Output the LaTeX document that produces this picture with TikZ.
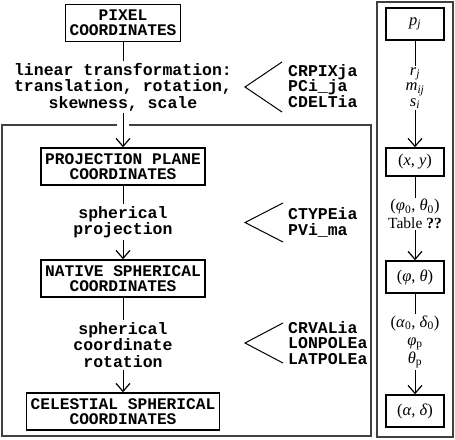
\RequirePackage{fix-cm}
\documentclass[tikz,border=0pt]{standalone}
\usepackage{fontspec}
\setmainfont{Liberation Serif}
\setmonofont{Liberation Mono}
\usetikzlibrary{arrows.meta}
\newcommand\vi[1]{\textit{#1}}
\newcommand\lowsb[1]{\textsubscript{#1}}
\begin{document}
\begin{tikzpicture}[x=1pt,y=-1pt,
  box/.style={draw, line width=1.5pt, align=center,
    font=\ttfamily\bfseries\fontsize{16.2}{15}\selectfont,
    inner xsep=4pt, inner ysep=3pt, minimum height=37pt},
  mbox/.style={draw, line width=1.5pt, minimum width=58pt, minimum height=32pt,
    font=\fontsize{16.5}{18}\selectfont, inner sep=2pt},
  lbl/.style={fill=white, align=center,
    font=\ttfamily\bfseries\fontsize{16.5}{16.5}\selectfont, inner sep=2pt},
  kw/.style={anchor=west, align=left,
    font=\ttfamily\bfseries\fontsize{16.5}{15.5}\selectfont, inner sep=0pt},
  mlbl/.style={fill=white, align=center, font=\fontsize{16.5}{18}\selectfont, inner sep=1.5pt},
  arr/.style={line width=1pt, -{Straight Barb[length=8pt,width=14pt,line width=1.2pt]}},
  frame/.style={draw=black!75, line width=1.2pt},
  brk/.style={line width=1pt}]
\useasboundingbox (0,0) rectangle (455,439);
% frames
\draw[frame] (2,125) rectangle (371,436);
\draw[frame] (377,2) rectangle (453,437);
% left column boxes
\node[box] (pix) at (123,23) {PIXEL\\COORDINATES};
\node[box] (proj) at (123,166.5) {PROJECTION PLANE\\COORDINATES};
\node[box] (nat) at (123,278.5) {NATIVE SPHERICAL\\COORDINATES};
\node[box] (cel) at (123,411.5) {CELESTIAL SPHERICAL\\COORDINATES};
% left connectors
\fill[white] (117,121) rectangle (129,129);
\draw[arr] (pix) -- (proj);
\draw[arr] (proj) -- (nat);
\draw[arr] (nat) -- (cel);
\node[lbl] (l1) at (123,87) {linear transformation:\\translation, rotation,\\skewness, scale};
\node[lbl] (l2) at (123,222) {spherical\\projection};
\node[lbl] (l3) at (123,345) {spherical\\coordinate\\rotation};
% keyword brackets
\draw[brk] (282,62) -- (245,87) -- (282,112);
\node[kw] (k1) at (288,86) {CRPIXja\\PCi\_ja\\CDELTia};
\draw[brk] (283,203) -- (245,222.5) -- (283,242);
\node[kw] (k2) at (288,222.5) {CTYPEia\\PVi\_ma};
\draw[brk] (283,323) -- (245,343) -- (283,363);
\node[kw] (k3) at (288,343) {CRVALia\\LONPOLEa\\LATPOLEa};
% right column
\node[mbox] (pj) at (415,24) {\vi{p}\lowsb{\vi{j}}};
\node[mbox, minimum height=28pt] (xy) at (415,162) {(\vi{x}, \vi{y})};
\node[mbox] (pt) at (415,277) {(\vi{φ}, \vi{θ})};
\node[mbox] (ad) at (415,411) {(\vi{α}, \vi{δ})};
\draw[arr] (pj) -- (xy);
\draw[arr] (xy) -- (pt);
\draw[arr] (pt) -- (ad);
\node[mlbl, font=\fontsize{16.5}{15.5}\selectfont] (m1) at (415,88) {\vi{r}\lowsb{\vi{j}}\\\vi{m}\lowsb{\vi{ij}}\\\vi{s}\lowsb{\vi{i}}};
\node[mlbl] (m2) at (415,214) {(\vi{φ}\lowsb{0}, \vi{θ}\lowsb{0})\\{\fontsize{15.5}{18}\selectfont Table \textbf{??}}};
\node[mlbl] (m3) at (415,342) {(\vi{α}\lowsb{0}, \vi{δ}\lowsb{0})\\\vi{φ}\lowsb{p}\\\vi{θ}\lowsb{p}};
\end{tikzpicture}
\end{document}
